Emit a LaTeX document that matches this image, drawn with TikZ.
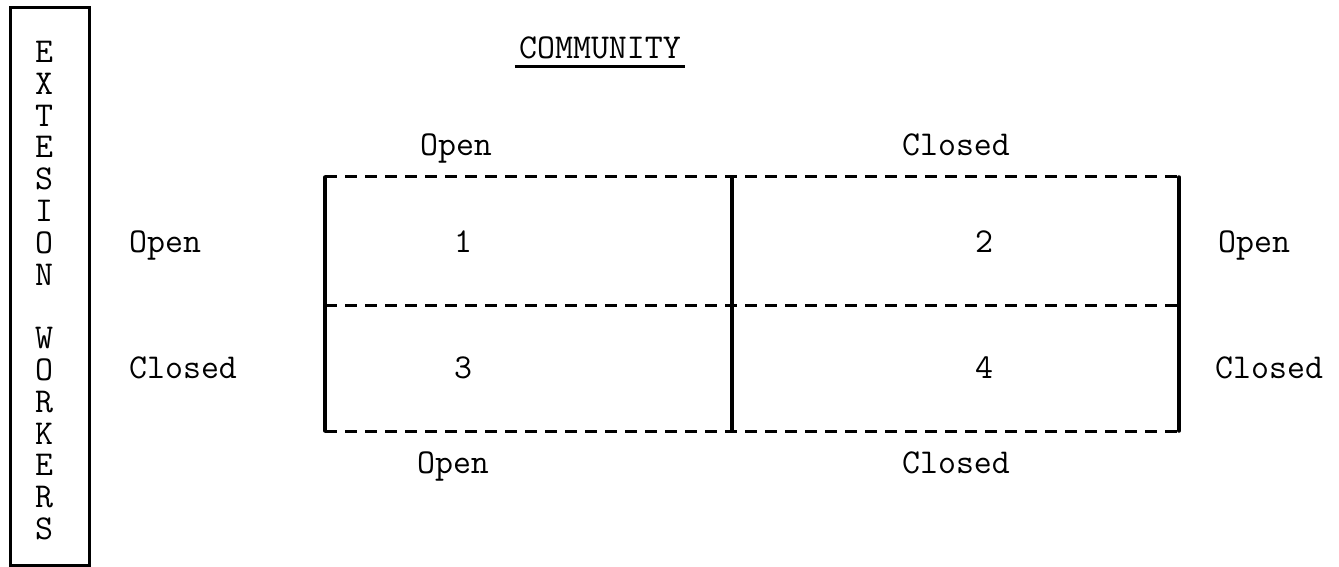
\documentclass[tikz,border=0pt]{standalone}
\usepackage{fontspec}
\begin{document}
\begin{tikzpicture}[x=1bp,y=-1bp,
  tw/.style={font=\fontsize{35}{35}\selectfont\ttfamily, inner sep=0pt, anchor=base},
  solidrule/.style={line width=3.5bp, line cap=round},
  dashrule/.style={line width=3bp, dash pattern=on 12bp off 8bp},
  frame/.style={line width=3bp}]
\useasboundingbox (0,0) rectangle (1339,567);

% side panel with the stacked letters
\draw[frame] (10,8) rectangle (89,565);
\foreach \ch [count=\i from 0] in {E,X,T,E,S,I,O,N}
  \node[tw] (l\i) at (44,{52+31.8*\i+10.5}) {\ch};
\foreach \ch [count=\i from 9] in {W,O,R,K,E,R,S}
  \node[tw] (l\i) at (44,{52+31.8*\i+10.5}) {\ch};

% heading
\node[tw] (comm) at (600,58.5) {COMMUNITY};
\draw[line width=3bp] ([xshift=-4bp,yshift=-8bp]comm.base west) -- ([xshift=4bp,yshift=-8bp]comm.base east);

% column labels
\node[tw] (topopen) at (456,155.5) {Open};
\node[tw] (topclosed) at (956,155.5) {Closed};
\node[tw] (botopen) at (453,473.5) {Open};
\node[tw] (botclosed) at (956,473.5) {Closed};

% row labels
\node[tw, anchor=base west] (lopen) at (129,252.5) {Open};
\node[tw, anchor=base west] (lclosed) at (129,378.5) {Closed};
\node[tw, anchor=base west] (ropen) at (1218,252.5) {Open};
\node[tw, anchor=base west] (rclosed) at (1215,378.5) {Closed};

% grid corners
\coordinate (tl) at (325,177);
\coordinate (tm) at (732,177);
\coordinate (tr) at (1179,177);
\coordinate (ml) at (325,305);
\coordinate (mm) at (732,305);
\coordinate (mr) at (1179,305);
\coordinate (bl) at (325,431);
\coordinate (bm) at (732,431);
\coordinate (br) at (1179,431);

% solid verticals
\draw[solidrule] (tl) -- (bl);
\draw[solidrule] (tm) -- (bm);
\draw[solidrule] (tr) -- (br);

% dashed horizontals
\draw[dashrule] (tl) -- (tr);
\draw[dashrule] (ml) -- (mr);
\draw[dashrule] (bl) -- (br);

% cell numbers
\node[tw] (c1) at (463,252.5) {1};
\node[tw] (c2) at (984,252.5) {2};
\node[tw] (c3) at (463,378.5) {3};
\node[tw] (c4) at (984,378.5) {4};
\end{tikzpicture}
\end{document}
